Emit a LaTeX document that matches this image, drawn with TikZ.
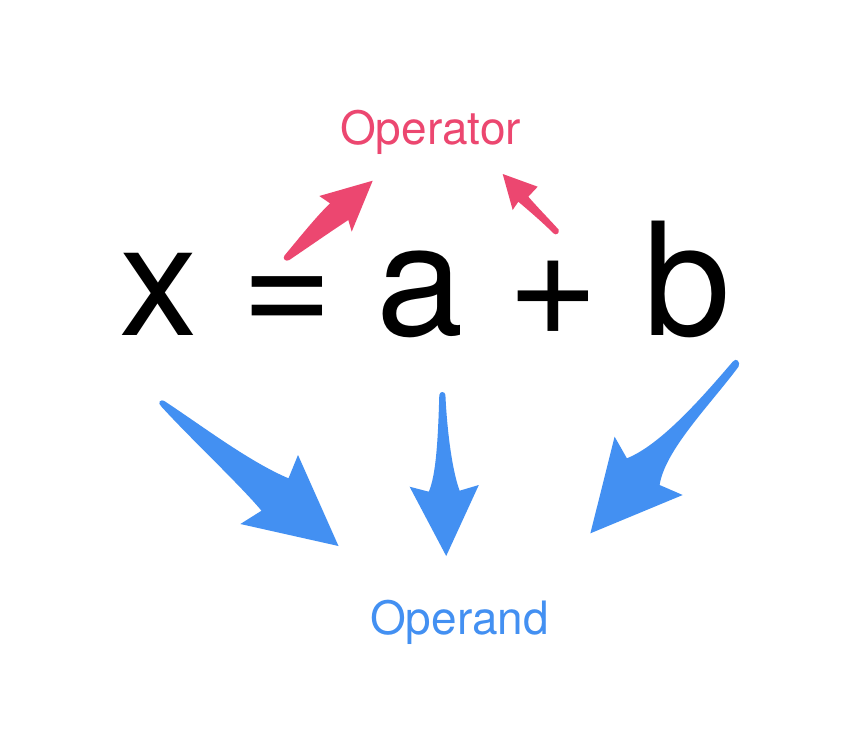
\documentclass[tikz,border=0pt]{standalone}
\usepackage{fontspec}
\setmainfont{TeX Gyre Heros}
\definecolor{opred}{HTML}{EC4770}
\definecolor{opblue}{HTML}{4390F2}
\begin{document}
\begin{tikzpicture}[x=1pt,y=-1pt,
  lbl/.style={inner sep=0pt,anchor=base},
  redarrow/.style={fill=opred,draw=none},
  bluearrow/.style={fill=opblue,draw=none}]
\useasboundingbox[fill=white] (0,0) rectangle (864,734);
% texts
\node[lbl] (eq) at (425,335) {\fontsize{157}{157}\selectfont x = a + b};
\node[lbl,text=opred] (operator) at (430.5,144) {\fontsize{46}{46}\selectfont Operator};
\node[lbl,text=opblue] (operand) at (459.5,634) {\fontsize{46}{46}\selectfont Operand};
% red arrows
\fill[redarrow] (289.3,260) .. controls (310,246) and (330,232) .. (348.3,220)
  -- (351.7,231.7) -- (372.7,180.7) -- (319.3,196) -- (330,203.3)
  .. controls (315,218) and (300,237) .. (284.5,255.5)
  .. controls (282,259) and (286,262) .. cycle;
\fill[redarrow] (553.5,233.3) .. controls (540,220) and (528,210) .. (518.3,201.7)
  -- (512.7,210) -- (502.7,174) -- (537.7,186.7) -- (528.3,196.7)
  .. controls (540,210) and (550,220) .. (558.5,229.5)
  .. controls (560,233) and (556,236) .. cycle;
% blue arrows
\fill[bluearrow] (161.5,406.7) .. controls (190,438) and (240,485) .. (261.5,510.7)
  -- (240.4,524) -- (338.5,546) -- (298,455) -- (288.5,478.3)
  .. controls (250,462) and (205,428) .. (165.4,401.7)
  .. controls (160,398) and (157,403) .. cycle;
\fill[bluearrow] (439.3,395) .. controls (438,440) and (436,475) .. (428.8,491.7)
  -- (409.6,486.7) -- (446.2,556) -- (478.8,485) -- (459.6,490.7)
  .. controls (452,470) and (447,430) .. (445.4,395)
  .. controls (445,391) and (439.7,391) .. cycle;
\fill[bluearrow] (732.7,361.7) .. controls (700,400) and (660,445) .. (626.9,458.3)
  -- (614.6,436.7) -- (590.4,533.3) -- (682.7,495) -- (659.6,485)
  .. controls (665,450) and (710,405) .. (738.5,366.7)
  .. controls (741,362) and (736,357) .. cycle;
\end{tikzpicture}
\end{document}
